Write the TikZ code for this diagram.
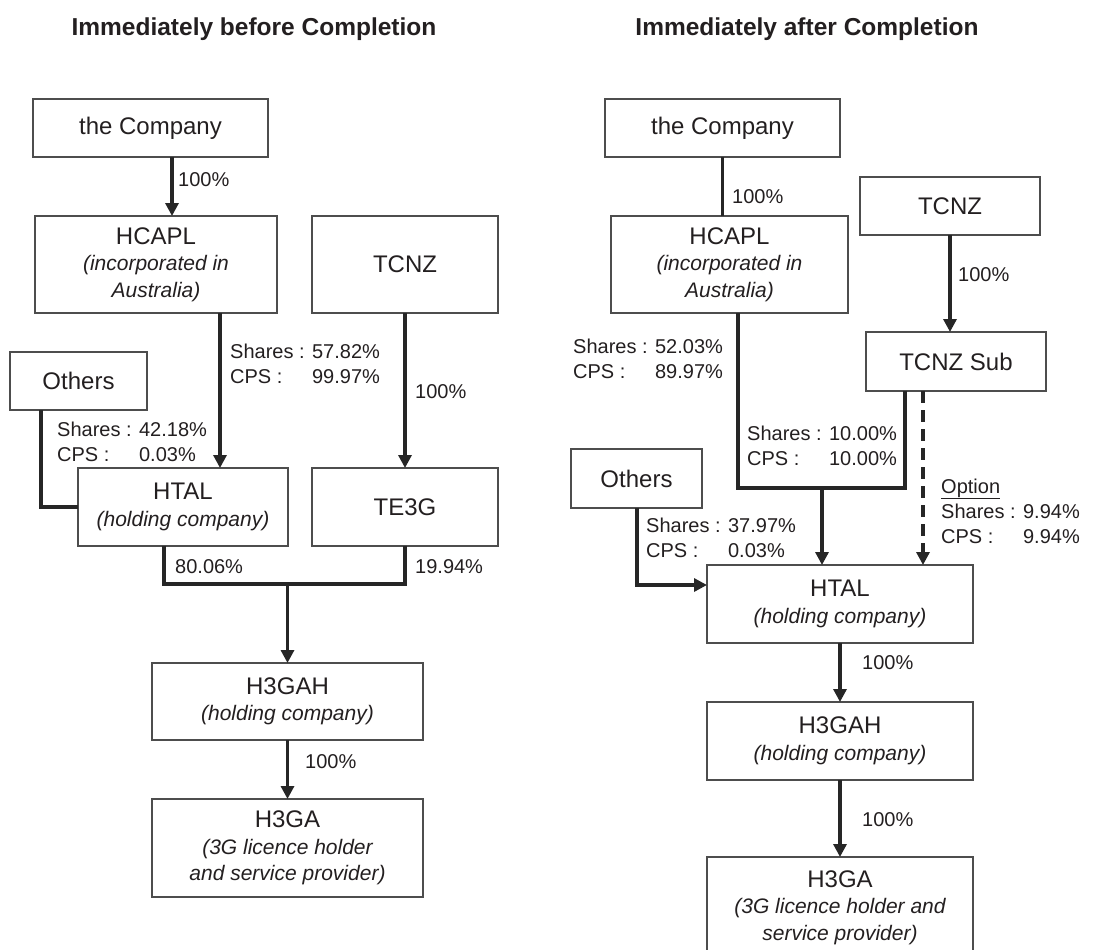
\documentclass[tikz,border=0pt]{standalone}
\usepackage{fontspec}
\setmainfont{Liberation Sans}
\usetikzlibrary{arrows.meta}
\definecolor{inkgray}{HTML}{231F20}
\definecolor{boxgray}{HTML}{4D4D4D}
\newcommand{\subline}[1]{{\fontsize{21}{26.5}\selectfont\itshape #1}}
\newcommand{\shr}[2]{\begin{tabular}{@{}l@{ }l@{}}Shares : & #1\\CPS : & #2\end{tabular}}

\begin{document}
\begin{tikzpicture}[x=1pt,y=-1pt]
        \tikzset{
        org box/.style={draw=boxgray,line width=1.1pt,inner sep=0,outer sep=0,align=center,text=inkgray,font=\fontsize{24}{26.5}\selectfont},
        pct/.style={anchor=west,inner sep=0,text=inkgray,font=\fontsize{20}{25}\selectfont},
        own/.style={draw=black!85,line width=3.2pt},
        own arrow/.style={own,-{Triangle[length=13pt,width=13pt]}},
        opt line/.style={own arrow,dash pattern=on 12pt off 7pt},
        head/.style={text=inkgray,font=\fontsize{24.5}{28}\selectfont\bfseries}
        }
        \useasboundingbox (0,0) rectangle (1098,950);

        % before completion
        \node[head] (tL) at (254,29) {Immediately before Completion};
        \node[org box, minimum width=235, minimum height=58] (cL) at (150.5,128) {the Company};
        \node[org box, minimum width=242, minimum height=97] (hL) at (156,264.5) {HCAPL\\\subline{(incorporated in}\\\subline{Australia)}};
        \node[org box, minimum width=186, minimum height=97] (tzL) at (405,264.5) {TCNZ};
        \node[org box, minimum width=137, minimum height=58] (oL) at (78.5,381) {Others};
        \node[org box, minimum width=210, minimum height=78] (htL) at (183,507) {HTAL\\\subline{(holding company)}};
        \node[org box, minimum width=186, minimum height=78] (teL) at (405,507) {TE3G};
        \node[org box, minimum width=271, minimum height=77] (ghL) at (287.5,701.5) {H3GAH\\\subline{(holding company)}};
        \node[org box, minimum width=271, minimum height=98] (gaL) at (287.5,848) {H3GA\\\subline{(3G licence holder}\\\subline{and service provider)}};
        \coordinate (jL) at (287.5,584);

        \draw[own arrow] (cL.south -| 172,0) -- (hL.north -| 172,0);
        \draw[own arrow] (hL.south -| 220,0) -- (htL.north -| 220,0);
        \draw[own arrow] (tzL.south) -- (teL.north);
        \draw[own] (oL.south -| 41,0) |- (htL.west);
        \draw[own] (htL.south -| 164,0) |- (jL) -| (teL.south);
        \draw[own arrow] (jL) -- (ghL.north);
        \draw[own arrow] (ghL.south) -- (gaL.north);

        \node[pct] (pL1) at (178,180) {100\%};
        \node[pct] (sL1) at (230,365.5) {\shr{57.82\%}{99.97\%}};
        \node[pct] (pL2) at (415,392) {100\%};
        \node[pct] (sL2) at (57,443.5) {\shr{42.18\%}{0.03\%}};
        \node[pct] (pL3) at (175,567) {80.06\%};
        \node[pct] (pL4) at (415,567) {19.94\%};
        \node[pct] (pL5) at (305,762) {100\%};

        % after completion
        \node[head] (tR) at (807,29) {Immediately after Completion};
        \node[org box, minimum width=235, minimum height=58] (cR) at (722.5,128) {the Company};
        \node[org box, minimum width=237, minimum height=97] (hR) at (729.5,264.5) {HCAPL\\\subline{(incorporated in}\\\subline{Australia)}};
        \node[org box, minimum width=180, minimum height=58] (tzR) at (950,206) {TCNZ};
        \node[org box, minimum width=180, minimum height=59] (sbR) at (956,361.5) {TCNZ Sub};
        \node[org box, minimum width=131, minimum height=59] (oR) at (636.5,478.5) {Others};
        \node[org box, minimum width=266, minimum height=78] (htR) at (840,604) {HTAL\\\subline{(holding company)}};
        \node[org box, minimum width=266, minimum height=78] (ghR) at (840,741) {H3GAH\\\subline{(holding company)}};
        \node[org box, minimum width=266, minimum height=101] (gaR) at (840,907.5) {H3GA\\\subline{(3G licence holder and}\\\subline{service provider)}};
        \coordinate (jR) at (822,488);

        \draw[own] (cR.south) -- (hR.north -| cR.south);
        \draw[own arrow] (tzR.south) -- (sbR.north -| tzR.south);
        \draw[own] (hR.south -| 738,0) |- (jR) -| (sbR.south -| 905,0);
        \draw[own arrow] (jR) -- (htR.north -| jR);
        \draw[opt line] (sbR.south -| 923,0) -- (htR.north -| 923,0);
        \draw[own arrow] (oR.south -| 637,0) |- (htR.west |- 0,585);
        \draw[own arrow] (htR.south) -- (ghR.north);
        \draw[own arrow] (ghR.south) -- (gaR.north);

        \node[pct] (pR1) at (732,197) {100\%};
        \node[pct] (pR2) at (958,275) {100\%};
        \node[pct] (sR1) at (573,360.5) {\shr{52.03\%}{89.97\%}};
        \node[pct] (sR2) at (747,447.5) {\shr{10.00\%}{10.00\%}};
        \node[pct] (sR3) at (646,539.5) {\shr{37.97\%}{0.03\%}};
        \node[pct] (sR4) at (941,513) {\begin{tabular}{@{}l@{ }l@{}}\multicolumn{2}{@{}l@{}}{\underline{Option}}\\Shares : & 9.94\%\\CPS : & 9.94\%\end{tabular}};
        \node[pct] (pR3) at (862,663) {100\%};
        \node[pct] (pR4) at (862,820) {100\%};
\end{tikzpicture}
\end{document}
